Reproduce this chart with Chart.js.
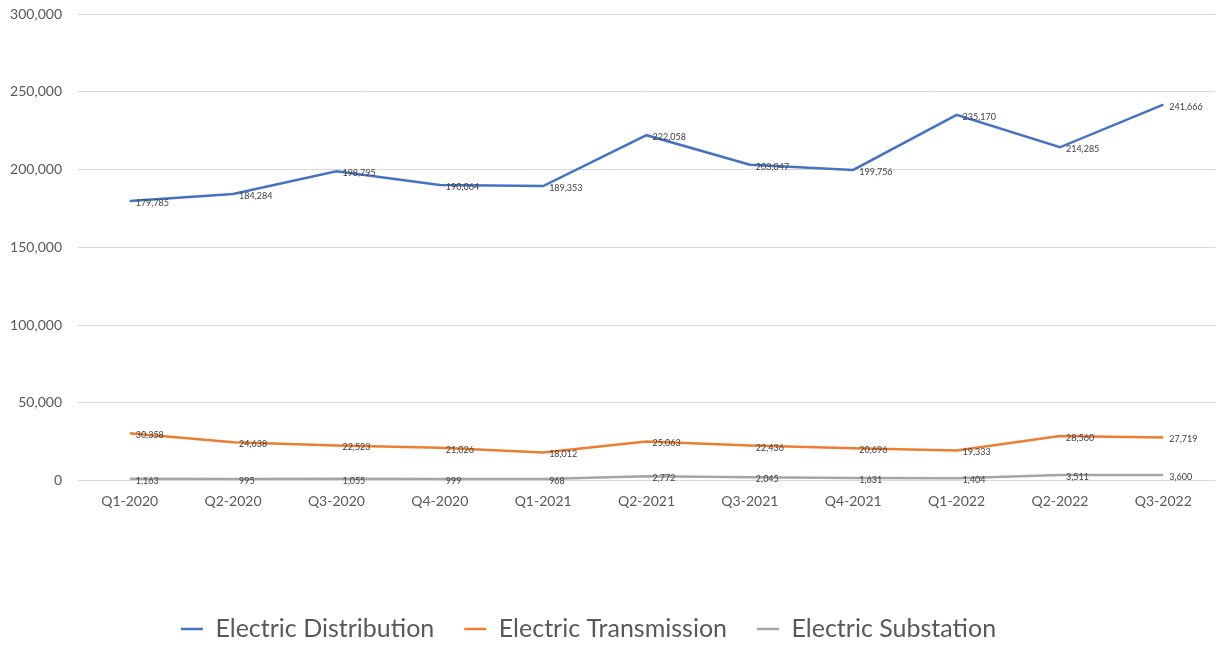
<!DOCTYPE html>
<html>
<head>
<meta charset="utf-8">
<script src="https://cdn.jsdelivr.net/npm/chart.js@4.4.0/dist/chart.umd.min.js"></script>
<style>
  html, body { margin: 0; padding: 0; background: #ffffff; }
  #wrap { width: 1232px; height: 646px; }
</style>
</head>
<body>
<div id="wrap"><canvas id="c" width="1232" height="646"></canvas></div>
<script>
const categories = ["Q1-2020","Q2-2020","Q3-2020","Q4-2020","Q1-2021","Q2-2021","Q3-2021","Q4-2021","Q1-2022","Q2-2022","Q3-2022"];
const distribution = [179785, 184284, 198795, 190064, 189353, 222058, 203047, 199756, 235170, 214285, 241666];
const transmission = [30358, 24638, 22523, 21026, 18012, 25063, 22436, 20696, 19333, 28560, 27719];
const substation = [1163, 995, 1055, 999, 968, 2772, 2045, 1631, 1404, 3511, 3600];
const seriesNames = ["Electric Distribution", "Electric Transmission", "Electric Substation"];
const yTicks = [0, 50000, 100000, 150000, 200000, 250000, 300000];

const fontFamily = "Lato, 'Open Sans', sans-serif";

const labelPlugin = {
  id: 'pointLabels',
  afterLayout(chart) {
    if (chart.legend) { chart.legend.left -= 19; chart.legend.right -= 19; }
  },
  afterDatasetsDraw(chart) {
    const ctx = chart.ctx;
    ctx.save();
    ctx.font = "9px " + fontFamily;
    ctx.fillStyle = "#404040";
    ctx.textAlign = "left";
    ctx.textBaseline = "middle";
    chart.data.datasets.forEach((ds, di) => {
      const meta = chart.getDatasetMeta(di);
      meta.data.forEach((pt, i) => {
        ctx.fillText(ds.data[i].toLocaleString('en-US'), pt.x + 6, pt.y + 2);
      });
    });
    ctx.restore();
  }
};

new Chart(document.getElementById('c'), {
  type: 'line',
  data: {
    labels: categories,
    datasets: [
      { label: seriesNames[0], data: distribution, borderColor: "#4472C4", backgroundColor: "#4472C4", borderWidth: 2.5, pointRadius: 0, tension: 0 },
      { label: seriesNames[1], data: transmission, borderColor: "#ED7D31", backgroundColor: "#ED7D31", borderWidth: 2.5, pointRadius: 0, tension: 0 },
      { label: seriesNames[2], data: substation, borderColor: "#A5A5A5", backgroundColor: "#A5A5A5", borderWidth: 2.5, pointRadius: 0, tension: 0 }
    ]
  },
  options: {
    responsive: false,
    animation: false,
    layout: { padding: { top: 0, right: 17, left: 0, bottom: 0 } },
    plugins: {
      legend: {
        position: 'bottom',
        maxHeight: 59.5,
        labels: {
          usePointStyle: true,
          pointStyle: 'line',
          pointStyleWidth: 22,
          boxHeight: 25,
          padding: 30,
          color: "#595959",
          font: { size: 25, family: fontFamily }
        }
      },
      tooltip: { enabled: false }
    },
    scales: {
      x: {
        offset: true,
        grid: { display: false, drawTicks: false },
        border: { display: false },
        ticks: { color: "#595959", font: { size: 14, family: fontFamily }, padding: 13, maxRotation: 0 },
        afterFit(scale) { scale.height = 106; }
      },
      y: {
        min: 0, max: 300000,
        afterBuildTicks(scale) { scale.ticks = yTicks.map(v => ({ value: v })); },
        grid: { color: "#D9D9D9", drawTicks: false, lineWidth: 1 },
        border: { display: false },
        ticks: {
          color: "#595959", font: { size: 14, family: fontFamily }, padding: 16,
          callback: v => v.toLocaleString('en-US')
        },
        afterFit(scale) { scale.width = 78; scale.paddingTop = 14; scale.paddingBottom = 0; }
      }
    }
  },
  plugins: [labelPlugin]
});
</script>
</body>
</html>
